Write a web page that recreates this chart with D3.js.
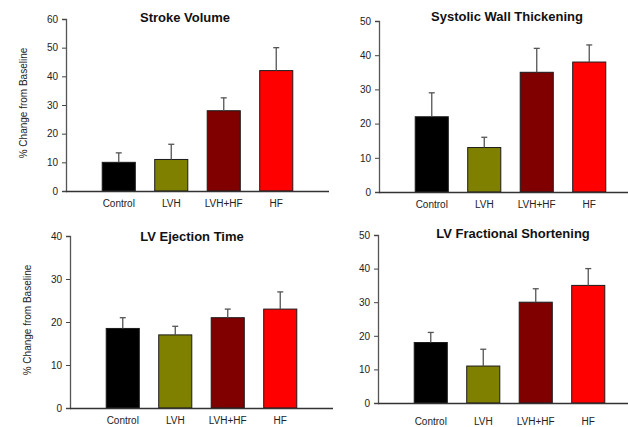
<!DOCTYPE html>
<html>
<head>
<meta charset="utf-8">
<script src="https://cdn.jsdelivr.net/npm/d3@7"></script>
<style>
  body { margin: 0; background: #fff; }
  svg { display: block; font-family: Arial, "Liberation Sans", sans-serif; }
</style>
</head>
<body>
<svg id="chart" width="628" height="427"></svg>
<script>
var categories = ["Control", "LVH", "LVH+HF", "HF"]
var barColors = ["#000000", "#808000", "#800000", "#ff0000"]

var titles = ["Stroke Volume", "Systolic Wall Thickening", "LV Ejection Time", "LV Fractional Shortening"]
var yMax = [60, 50, 40, 50]

var strokeVolume = [10, 11, 28, 42]
var strokeVolumeErr = [3.3, 5.3, 4.5, 8]
var wallThickening = [22, 13, 35, 38]
var wallThickeningErr = [7, 3, 7, 5]
var ejectionTime = [18.5, 17, 21, 23]
var ejectionTimeErr = [2.5, 2, 2, 4]
var fractionalShortening = [18, 11, 30, 35]
var fractionalShorteningErr = [3, 5, 4, 5]

var values = [strokeVolume, wallThickening, ejectionTime, fractionalShortening]
var errors = [strokeVolumeErr, wallThickeningErr, ejectionTimeErr, fractionalShorteningErr]

// panel layout (pixels)
var layout = [
  {x0: 66,  top: 19,  y0: 191, titleX: 185, titleY: 22,  labelY: 207, ylab: [23.5, 103]},
  {x0: 379, top: 21,  y0: 192, titleX: 507, titleY: 21,  labelY: 208, ylab: null},
  {x0: 70,  top: 236, y0: 408, titleX: 192, titleY: 241, labelY: 424, ylab: [27, 320]},
  {x0: 378, top: 235, y0: 403, titleX: 513, titleY: 238, labelY: 425, ylab: null}
]
var axisLen = 263

var svg = d3.select("#chart")

layout.forEach(function(p, k) {
  var g = svg.append("g")
  var x = d3.scaleBand().domain(categories)
    .range([p.x0, p.x0 + axisLen])
    .paddingInner(0.37).paddingOuter(0.69)
  var y = d3.scaleLinear().domain([0, yMax[k]]).range([p.y0, p.top])

  // bars
  g.selectAll("rect.bar").data(values[k]).enter().append("rect")
    .attr("class", "bar")
    .attr("x", function(d, i) { return x(categories[i]) })
    .attr("width", x.bandwidth())
    .attr("y", function(d) { return y(d) })
    .attr("height", function(d) { return y(0) - y(d) })
    .attr("fill", function(d, i) { return barColors[i] })
    .attr("stroke", "#1a1a1a")
    .attr("stroke-width", 1)

  // error bars (upper only)
  var err = g.selectAll("g.err").data(values[k]).enter().append("g").attr("class", "err")
  err.append("line")
    .attr("x1", function(d, i) { return x(categories[i]) + x.bandwidth() / 2 })
    .attr("x2", function(d, i) { return x(categories[i]) + x.bandwidth() / 2 })
    .attr("y1", function(d) { return y(d) })
    .attr("y2", function(d, i) { return y(d + errors[k][i]) })
    .attr("stroke", "#555").attr("stroke-width", 1.3)
  err.append("line")
    .attr("x1", function(d, i) { return x(categories[i]) + x.bandwidth() / 2 - 3 })
    .attr("x2", function(d, i) { return x(categories[i]) + x.bandwidth() / 2 + 3 })
    .attr("y1", function(d, i) { return y(d + errors[k][i]) })
    .attr("y2", function(d, i) { return y(d + errors[k][i]) })
    .attr("stroke", "#555").attr("stroke-width", 1.3)

  // y axis
  var yAxis = g.append("g")
    .attr("transform", "translate(" + p.x0 + ",0)")
    .call(d3.axisLeft(y).tickValues(d3.range(0, yMax[k] + 1, 10)).tickSize(4).tickPadding(4))
  yAxis.select(".domain").attr("stroke", "#555").attr("stroke-width", 1.3)
  yAxis.selectAll(".tick line").attr("stroke", "#444")
  yAxis.selectAll(".tick text").attr("fill", "#222").style("font-size", "10px")
    .style("font-family", "Arial, 'Liberation Sans', sans-serif")

  // x axis line
  g.append("line")
    .attr("x1", p.x0).attr("x2", p.x0 + axisLen)
    .attr("y1", p.y0 + 0.5).attr("y2", p.y0 + 0.5)
    .attr("stroke", "#333").attr("stroke-width", 1.3)

  // category labels
  g.selectAll("text.cat").data(categories).enter().append("text")
    .attr("class", "cat")
    .attr("x", function(d) { return x(d) + x.bandwidth() / 2 })
    .attr("y", p.labelY)
    .attr("text-anchor", "middle")
    .attr("fill", "#222")
    .style("font-size", "10px")
    .text(function(d) { return d })

  // title
  g.append("text")
    .attr("x", p.titleX).attr("y", p.titleY)
    .attr("text-anchor", "middle")
    .attr("fill", "#111")
    .style("font-size", "13px").style("font-weight", "bold")
    .text(titles[k])

  if (p.ylab) {
    g.append("text")
      .attr("transform", "translate(" + p.ylab[0] + "," + p.ylab[1] + ") rotate(-90)")
      .attr("text-anchor", "middle")
      .attr("dominant-baseline", "central")
      .attr("fill", "#222")
      .style("font-size", "10px")
      .text("% Change from Baseline")
  }
})
</script>
</body>
</html>
